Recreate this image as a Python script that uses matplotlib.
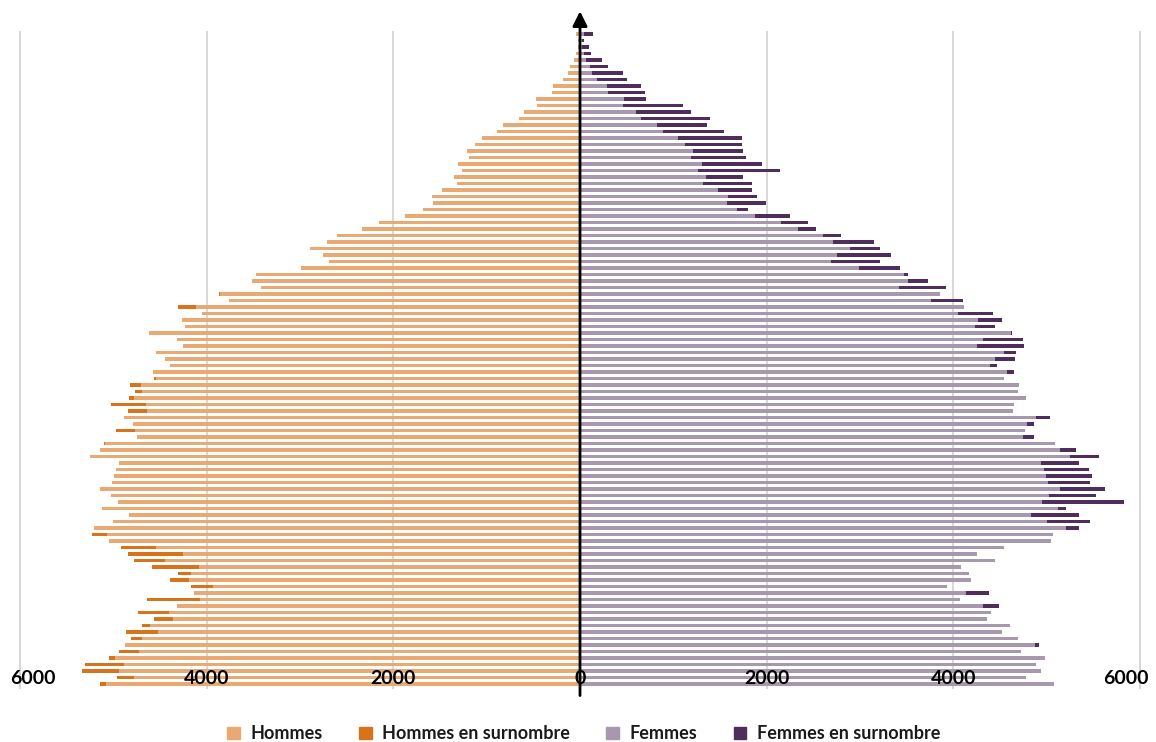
import matplotlib.pyplot as plt
import numpy as np
from matplotlib.patches import Patch

# ages listed from the top of the pyramid (100) down to 0
ages = list(range(100, -1, -1))

hommes = [
    48, 24, 24, 40, 60, 109, 130, 181, 290, 302,
    476, 456, 605, 657, 827, 887, 1052, 1129, 1210, 1185,
    1306, 1262, 1347, 1318, 1476, 1585, 1577, 1681, 1879, 2157,
    2339, 2605, 2710, 2891, 2750, 2685, 2988, 3476, 3512, 3423,
    3871, 3762, 4310, 4052, 4262, 4234, 4613, 4322, 4250, 4540,
    4443, 4395, 4576, 4568, 4822, 4770, 4834, 5024, 4847, 4891,
    4786, 4967, 4746, 5097, 5141, 5246, 4943, 4975, 4988, 5012,
    5145, 5024, 4951, 5125, 4830, 5000, 5205, 5230, 5050, 4915,
    4842, 4782, 4588, 4310, 4395, 4173, 4141, 4637, 4322, 4734,
    4564, 4697, 4867, 4806, 4879, 4939, 5048, 5302, 5338, 4963,
    5145,
]

femmes = [
    137, 48, 97, 121, 241, 302, 463, 499, 656, 692,
    704, 1107, 1191, 1388, 1364, 1545, 1738, 1738, 1750, 1775,
    1948, 2141, 1750, 1847, 1847, 1895, 1992, 1799, 2253, 2447,
    2531, 2797, 3151, 3215, 3328, 3215, 3432, 3517, 3726, 3919,
    3859, 4100, 4110, 4426, 4523, 4442, 4628, 4744, 4756, 4676,
    4660, 4467, 4648, 4540, 4708, 4696, 4781, 4645, 4638, 5038,
    4869, 4767, 4869, 5086, 5316, 5561, 5344, 5449, 5489, 5465,
    5622, 5525, 5827, 5211, 5352, 5465, 5352, 5070, 5050, 4540,
    4250, 4445, 4086, 4173, 4190, 3930, 4378, 4068, 4487, 4405,
    4365, 4612, 4520, 4698, 4913, 4720, 4979, 4890, 4940, 4781,
    5075,
]

ticks = [-6000, -4000, -2000, 0, 2000, 4000, 6000]

c_h = "#E8AA72"
c_h_plus = "#D9731B"
c_f = "#A898AD"
c_f_plus = "#4F2E5B"

y = np.array(ages)
h = np.array(hommes)
f = np.array(femmes)
common = np.minimum(h, f)
h_plus = h - common
f_plus = f - common

plt.rcParams["font.family"] = ["Lato", "DejaVu Sans"]

fig = plt.figure(figsize=(11.56, 7.42), dpi=100)
ax = fig.add_axes([15 / 1156, 53 / 742, 1130 / 1156, 658 / 742])

bh = 0.6
ax.barh(y, -common, height=bh, color=c_h, linewidth=0)
ax.barh(y, -h_plus, left=-common, height=bh, color=c_h_plus, linewidth=0)
ax.barh(y, common, height=bh, color=c_f, linewidth=0)
ax.barh(y, f_plus, left=common, height=bh, color=c_f_plus, linewidth=0)

ax.set_xlim(-6054, 6054)
ax.set_ylim(-0.77, 100.46)

for t in ticks:
    if t != 0:
        ax.axvline(t, color="#d4d4d4", lw=1.3, zorder=0)

for s in ax.spines.values():
    s.set_visible(False)
ax.set_xticks([])
ax.set_yticks([])

# central axis with arrow
ax.annotate("", xy=(0, 1.03), xytext=(0, -0.01),
            xycoords=("data", "axes fraction"),
            arrowprops=dict(arrowstyle="-|>", lw=2.0, color="black",
                            mutation_scale=22, shrinkA=0, shrinkB=0),
            annotation_clip=False)

# tick labels drawn inside the plot, Excel style
label_pos = {-6000: -5860, 6000: 5850}
for t in ticks:
    ax.text(label_pos.get(t, t), 0.8, str(abs(t)), ha="center", va="center",
            fontsize=14, fontweight="bold", color="black")

handles = [
    Patch(color=c_h, label="Hommes"),
    Patch(color=c_h_plus, label="Hommes en surnombre"),
    Patch(color=c_f, label="Femmes"),
    Patch(color=c_f_plus, label="Femmes en surnombre"),
]
fig.legend(handles=handles, loc="center", bbox_to_anchor=(0.505, 0.011), ncol=4,
           frameon=False, prop={"weight": "bold", "size": 13},
           handlelength=0.7, handleheight=0.7, handletextpad=0.6,
           columnspacing=2.0, labelcolor="#1a1a1a")

fig.savefig("out.png", dpi=100)
